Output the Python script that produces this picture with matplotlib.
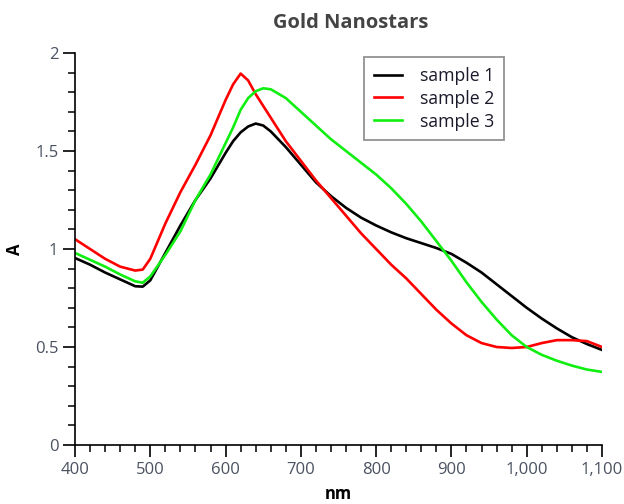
import matplotlib
matplotlib.use("Agg")
import matplotlib.pyplot as plt
from matplotlib.ticker import MultipleLocator, FuncFormatter

wavelength = [400, 420, 440, 460, 480, 490, 500, 520, 540, 560, 580, 600, 610, 620, 630, 640, 650,
              660, 680, 700, 720, 740, 760, 780, 800, 820, 840, 860, 880, 900, 920, 940, 960, 980,
              1000, 1020, 1040, 1060, 1080, 1100]
sample1 = [0.954, 0.92, 0.88, 0.845, 0.81, 0.808, 0.84, 0.98, 1.12, 1.25, 1.36, 1.49, 1.55, 1.595, 1.625, 1.64, 1.63,
           1.60, 1.52, 1.43, 1.34, 1.27, 1.21, 1.16, 1.12, 1.085, 1.055, 1.03, 1.005, 0.975, 0.93, 0.88, 0.82, 0.76,
           0.70, 0.645, 0.595, 0.55, 0.515, 0.485]
sample2 = [1.05, 1.00, 0.95, 0.91, 0.89, 0.895, 0.95, 1.13, 1.29, 1.43, 1.58, 1.76, 1.84, 1.895, 1.86, 1.79, 1.73,
           1.67, 1.55, 1.45, 1.35, 1.26, 1.17, 1.08, 1.00, 0.92, 0.85, 0.77, 0.69, 0.62, 0.56, 0.52, 0.50, 0.495,
           0.50, 0.52, 0.535, 0.535, 0.53, 0.50]
sample3 = [0.98, 0.945, 0.91, 0.87, 0.835, 0.828, 0.86, 0.97, 1.09, 1.25, 1.38, 1.54, 1.62, 1.71, 1.77, 1.805, 1.82,
           1.815, 1.77, 1.70, 1.63, 1.56, 1.50, 1.44, 1.38, 1.31, 1.23, 1.14, 1.04, 0.94, 0.83, 0.73, 0.64, 0.56,
           0.50, 0.46, 0.43, 0.405, 0.385, 0.373]
labels = ["sample 1", "sample 2", "sample 3"]
colors = ["#000000", "#ff0000", "#11ee11"]

plt.rcParams['font.family'] = ['Open Sans', 'DejaVu Sans']

fig = plt.figure(figsize=(6.24, 5.04), dpi=100)
ax = fig.add_axes([75/624, 59/504, (602-75)/624, (445-53)/504])

for ys, lab, c in zip([sample1, sample2, sample3], labels, colors):
    ax.plot(wavelength, ys, color=c, lw=1.9, label=lab)

ax.set_xlim(400, 1100)
ax.set_ylim(0, 2)
for s in ['top', 'right']:
    ax.spines[s].set_visible(False)
for s in ['left', 'bottom']:
    ax.spines[s].set_linewidth(1.2)

ax.xaxis.set_major_locator(MultipleLocator(100))
ax.xaxis.set_minor_locator(MultipleLocator(20))
ax.yaxis.set_major_locator(MultipleLocator(0.5))
ax.yaxis.set_minor_locator(MultipleLocator(0.1))
ax.xaxis.set_major_formatter(FuncFormatter(lambda v, p: f"{v:,.0f}"))
ax.yaxis.set_major_formatter(FuncFormatter(lambda v, p: f"{v:g}"))
ax.tick_params(which='major', length=8.5, width=1.2, labelsize=12, labelcolor='#4a5260', direction='out')
ax.tick_params(which='minor', length=5, width=1.1, direction='out')

ax.set_xlabel("nm", fontsize=12, fontweight='bold', labelpad=5.5)
ax.set_ylabel("A", fontsize=12, fontweight='bold', labelpad=8)

fig.text(351/624, 1 - 23/504, "Gold Nanostars", ha='center', va='center',
         fontsize=14.5, fontweight='bold', color='#444444')

leg = ax.legend(loc='upper left', bbox_to_anchor=((364-75)/527, (445-57)/392),
                fontsize=12.7, frameon=True, fancybox=False, edgecolor='#777777',
                handlelength=1.6, borderpad=0.55, labelspacing=0.28, handletextpad=1.0,
                borderaxespad=0)
leg.get_frame().set_linewidth(1.3)
for t in leg.get_texts():
    t.set_color('#1a1a2a')

fig.savefig("out.png", dpi=100)
